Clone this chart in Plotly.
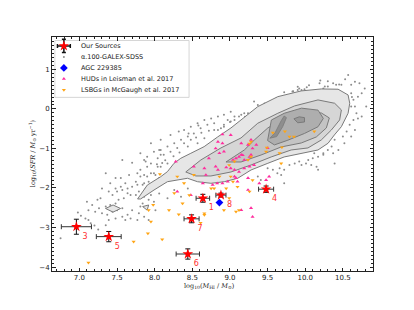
import plotly.graph_objects as go

# ---------------- data ----------------
src_id = ["1", "3", "4", "5", "6", "7", "8"]
src_x = [8.64, 6.96, 9.48, 7.39, 8.44, 8.49, 8.88]
src_y = [-2.26, -2.98, -2.03, -3.23, -3.67, -2.78, -2.18]
src_xerr = [0.09, 0.20, 0.10, 0.165, 0.155, 0.10, 0.067]
src_yerr = [0.10, 0.19, 0.08, 0.13, 0.13, 0.10, 0.05]

agc_x = [8.86]
agc_y = [-2.37]

hud_x = [8.90, 9.01, 8.84, 8.90, 9.15, 9.24, 8.81, 8.92, 8.86, 9.28, 9.30, 9.35,
         9.04, 9.08, 9.12, 9.17, 9.19, 9.26, 8.72, 9.50, 9.28, 9.15, 8.52, 8.66,
         8.81, 8.84, 8.95, 9.01, 9.06, 9.12, 9.19, 9.26, 9.32, 8.28, 8.68, 9.06,
         9.08, 9.24, 8.64, 8.83, 8.90, 8.97, 9.10, 9.39, 9.48, 9.52, 9.24, 9.28,
         9.15, 9.30, 8.30, 8.48, 8.77]
hud_y = [-0.64, -0.66, -0.83, -0.87, -0.87, -0.91, -1.00, -1.08, -1.12, -0.78, -1.00, -0.91,
         -1.29, -1.25, -1.21, -1.17, -1.29, -1.21, -1.25, -0.99, -1.16, -1.16, -1.46, -1.50,
         -1.46, -1.54, -1.48, -1.50, -1.54, -1.59, -1.50, -1.46, -1.42, -1.33, -1.67, -1.71,
         -1.75, -1.75, -1.88, -1.88, -1.88, -1.84, -1.84, -1.88, -1.80, -1.71, -2.05, -2.51,
         -2.56, -2.73, -2.09, -2.18, -1.92]

lsb_x = [7.12, 7.72, 8.10, 7.91, 7.95, 8.19, 8.32, 8.37, 7.98, 8.46, 8.66, 8.61,
         8.92, 9.08, 9.12, 8.26, 8.39, 8.07, 7.92, 8.52, 8.30, 8.79, 8.95, 9.01,
         8.66, 8.99, 8.75, 9.04, 9.30, 8.86, 8.99, 9.24, 9.68, 9.48, 9.66, 9.28,
         9.57, 9.73, 9.79, 9.85, 10.12, 9.49, 9.69, 9.28, 9.26, 9.06, 9.10, 9.26]
lsb_y = [-3.89, -3.36, -3.30, -3.15, -2.85, -2.56, -2.67, -2.39, -2.43, -2.18, -2.64, -2.88,
         -2.56, -2.60, -2.56, -2.13, -1.88, -1.65, -2.56, -1.67, -1.71, -2.01, -2.01, -1.71,
         -2.68, -2.26, -2.01, -1.84, -1.80, -1.71, -1.42, -1.29, -1.38, -1.08, -1.12, -1.21,
         -0.60, -0.57, -0.70, -0.70, -0.57, -0.98, -0.97, -0.83, -0.88, -1.33, -1.97, -2.09]

alfa_x = [8.06, 8.08, 7.57, 7.70, 7.88, 8.10, 8.04, 7.35, 7.48, 7.41, 7.55, 7.66,
          7.77, 7.81, 7.86, 7.95, 8.01, 8.06, 8.10, 7.92, 7.75, 7.61, 7.55, 7.48,
          7.30, 7.28, 7.39, 7.44, 7.50, 7.57, 7.64, 7.70, 7.77, 7.84, 7.88, 7.95,
          7.64, 7.68, 7.59, 7.52, 7.48, 7.41, 7.35, 7.26, 7.21, 7.12, 7.10, 7.17,
          7.30, 7.37, 7.44, 7.50, 7.57, 7.64, 7.70, 7.57, 7.48, 7.39, 7.35, 7.12,
          7.08, 7.15, 7.75, 7.79, 7.86, 7.92, 7.84, 7.79, 7.86, 7.77, 7.68, 7.61,
          7.92, 8.01, 7.24, 6.75, 6.98, 7.02, 7.25, 7.20,
          8.39, 8.48, 8.57, 8.66, 8.75, 8.84, 8.92, 9.01, 8.70, 8.61, 8.52, 8.44,
          8.35, 8.26, 8.17, 8.08, 7.99, 7.90, 7.86, 8.48, 8.39, 8.30, 8.21, 8.12,
          8.04, 7.95, 7.90, 8.08, 8.17, 7.99, 7.90, 7.86, 8.79, 8.88, 8.57, 8.66,
          8.97, 9.06, 9.15, 9.24, 7.81, 7.81, 7.95, 8.08, 8.21, 8.32,
          7.95, 8.06, 8.26, 8.44, 8.35, 8.17, 7.99, 7.81,
          10.57, 10.66, 10.72, 10.37, 10.41, 10.30, 10.24, 10.19, 9.95, 9.90, 9.63, 9.55,
          9.37, 9.32, 9.19, 9.12, 9.06, 9.01, 8.92, 8.84, 8.79, 10.48, 10.62, 10.61,
          10.68, 10.75, 10.64,
          10.61, 10.48, 10.26, 9.99, 9.92, 9.84, 9.72, 9.46, 10.61, 10.70, 10.64, 10.66,
          10.70, 10.59, 10.66, 10.55, 10.50, 10.39, 10.35, 10.30, 10.44, 10.52, 10.61, 10.24,
          10.17, 10.10, 10.79, 10.75, 10.81,
          9.50, 9.57, 9.63, 9.72, 9.79, 9.86, 9.92, 10.01, 10.08, 10.15, 10.17, 10.04,
          9.95, 9.68, 9.72, 10.24, 10.37, 10.39, 10.12, 9.37, 9.41, 9.66,
          8.55, 8.62, 8.72, 8.44, 8.33, 8.25, 8.14, 8.03, 8.45, 8.58, 8.92, 9.00,
          9.20, 9.33, 9.45, 9.90, 10.05, 10.30, 10.45, 10.53, 10.20, 10.02, 9.83, 9.62]
alfa_y = [-1.04, -1.16, -1.29, -1.36, -1.33, -1.37, -1.46, -1.63, -1.75, -1.88, -1.75, -1.67,
          -1.63, -1.71, -1.67, -1.63, -1.67, -1.75, -1.80, -1.84, -1.84, -1.88, -1.97, -2.01,
          -2.01, -2.26, -2.09, -2.18, -2.09, -2.05, -2.01, -1.97, -1.92, -1.92, -2.01, -1.92,
          -2.13, -2.18, -2.26, -2.30, -2.39, -2.43, -2.47, -2.51, -2.60, -2.56, -2.35, -2.43,
          -2.64, -2.68, -2.60, -2.56, -2.51, -2.68, -2.56, -2.73, -2.77, -2.81, -2.94, -2.81,
          -2.77, -2.89, -2.18, -2.09, -2.22, -2.30, -2.39, -2.64, -2.73, -2.81, -2.77, -2.81,
          -2.81, -2.56, -2.30, -3.27, -2.62, -2.70, -3.05, -2.95,
          -0.53, -0.45, -0.36, -0.28, -0.24, -0.19, -0.15, -0.07, -0.40, -0.49, -0.62, -0.70,
          -0.78, -0.87, -0.95, -1.04, -1.08, -1.21, -1.29, -0.78, -0.87, -0.99, -1.08, -1.16,
          -1.25, -1.38, -1.46, -1.46, -1.38, -1.63, -1.71, -1.88, -0.36, -0.49, -0.87, -0.74,
          -0.28, -0.19, -0.15, -0.11, -1.54, -1.12, -0.87, -0.78, -0.66, -0.57,
          -2.18, -2.14, -2.05, -2.01, -2.22, -2.26, -2.35, -2.47,
          0.86, 0.69, 0.65, 0.65, 0.61, 0.57, 0.52, 0.65, 0.48, 0.48, 0.19, 0.14,
          0.10, 0.19, -0.11, -0.19, -0.28, -0.32, -0.45, -0.53, -0.53, 0.23, 0.30, 0.06,
          -0.11, -0.19, -0.28,
          0.61, 0.61, 0.57, 0.50, 0.52, 0.45, 0.42, 0.14, 0.40, 0.31, 0.23, 0.06,
          -0.24, -0.40, -0.53, -0.57, -0.70, -0.78, -0.95, -1.04, -1.04, -0.87, -0.70, -1.12,
          -1.21, -1.25, 0.52, 0.40, 0.06,
          -1.50, -1.54, -1.63, -1.54, -1.42, -1.38, -1.33, -1.38, -1.42, -1.46, -1.54, -1.29,
          -1.42, -1.67, -1.88, -1.16, -1.12, -1.38, -1.12, -1.71, -1.80, -1.50,
          -0.72, -0.60, -0.55, -0.95, -1.10, -1.20, -1.30, -1.40, -0.62, -0.42, -0.40, -0.33,
          -0.20, -0.08, 0.02, 0.56, 0.60, 0.70, 0.62, 0.75, 0.72, 0.55, 0.44, 0.27]

# density contour outlines of the alpha.100 sample (outer -> inner)
c1_x = [7.773, 7.903, 8.08, 8.169, 8.257, 8.347, 8.48, 8.657, 8.836, 9.013, 9.147, 9.369,
        9.636, 9.947, 10.213, 10.436, 10.569, 10.591, 10.569, 10.48, 10.387, 10.303, 10.169,
        9.947, 9.72, 9.503, 9.28, 9.103, 8.924, 8.747, 8.569, 8.436, 8.303, 8.169, 7.991, 7.813]
c1_y = [-2.278, -1.924, -1.714, -1.587, -1.375, -1.248, -1.122, -0.954, -0.709, -0.481, -0.278, 0.058,
        0.311, 0.456, 0.506, 0.499, 0.354, 0.144, -0.109, -0.448, -0.658, -0.868, -1.038,
        -1.122, -1.215, -1.375, -1.544, -1.754, -1.841, -1.881, -1.841, -1.754, -1.797, -1.841, -2.051, -2.278]
c1b_x = [7.347, 7.447, 7.547, 7.447]
c1b_y = [-2.519, -2.43, -2.519, -2.61]
c1c_x = [7.84, 7.92, 7.90]
c1c_y = [-2.47, -2.43, -2.56]
c2_x = [8.413, 8.613, 8.88, 9.147, 9.369, 9.636, 9.857, 10.169, 10.391, 10.48, 10.457, 10.347,
        10.213, 10.036, 9.813, 9.547, 9.28, 9.013, 8.747, 8.547]
c2_y = [-1.595, -1.291, -0.987, -0.734, -0.362, -0.109, 0.076, 0.228, 0.144, -0.025, -0.278, -0.532,
        -0.785, -0.987, -1.038, -1.215, -1.418, -1.595, -1.696, -1.696]
c3_x = [8.947, 9.191, 9.324, 9.503, 9.724, 9.947, 10.213, 10.32, 10.28, 10.147, 9.947, 9.68, 9.413, 9.147]
c3_y = [-1.342, -1.038, -0.785, -0.481, -0.228, -0.101, -0.101, -0.228, -0.481, -0.709, -0.861, -0.962, -1.165, -1.342]
c4_x = [9.50, 9.55, 9.72, 9.95, 10.17, 10.24, 10.17, 9.99, 9.77, 9.59]
c4_y = [-0.80, -0.28, -0.11, 0.02, -0.03, -0.24, -0.45, -0.62, -0.79, -0.91]
c5_x = [9.85, 9.92, 9.99, 9.99, 9.90]
c5_y = [-0.25, -0.20, -0.22, -0.33, -0.35]
c5b_x = [9.53, 9.60, 9.68, 9.72, 9.75, 9.70, 9.62]
c5b_y = [-0.74, -0.60, -0.30, -0.18, -0.22, -0.45, -0.70]

x_ticks = [7.0, 7.5, 8.0, 8.5, 9.0, 9.5, 10.0, 10.5]
y_ticks = [-4, -3, -2, -1, 0, 1]

legend_labels = ["Our Sources", "α.100-GALEX-SDSS", "AGC 229385",
                 "HUDs in Leisman et al. 2017", "LSBGs in McGaugh et al. 2017"]

# ---------------- figure ----------------
GRAY_PT = dict(size=2.0, color="#8c8c8c")
HUD_MK = dict(symbol="triangle-up", size=3.6, color="#ff2d9e", line=dict(width=0))
LSB_MK = dict(symbol="triangle-down", size=3.6, color="#ffa514", line=dict(width=0))
AGC_MK = dict(symbol="diamond", size=6, color="#0000ff")
STAR_MK = dict(symbol="star", size=8, color="#ff0000", line=dict(width=0))

fig = go.Figure()

fig.add_trace(go.Scatter(x=alfa_x, y=alfa_y, mode="markers", marker=GRAY_PT, hoverinfo="skip"))

def poly(xs, ys, fill, lw=1.0, lc="#7a7a7a"):
    fig.add_trace(go.Scatter(x=xs + xs[:1], y=ys + ys[:1], mode="lines", fill="toself",
                             fillcolor=fill, line=dict(color=lc, width=lw), hoverinfo="skip"))

poly(c1_x, c1_y, "#e6e6e6")
poly(c1b_x, c1b_y, "#e6e6e6")
poly(c1c_x, c1c_y, "#e6e6e6")
poly(c2_x, c2_y, "#d6d6d6")
poly(c3_x, c3_y, "#c4c4c4")
poly(c4_x, c4_y, "#aeaeae")
poly(c5_x, c5_y, "#989898")
poly(c5b_x, c5b_y, "#8e8e8e", lw=0.8)

fig.add_trace(go.Scatter(x=hud_x, y=hud_y, mode="markers", marker=HUD_MK, hoverinfo="skip"))
fig.add_trace(go.Scatter(x=lsb_x, y=lsb_y, mode="markers", marker=LSB_MK, hoverinfo="skip"))
fig.add_trace(go.Scatter(x=agc_x, y=agc_y, mode="markers", marker=AGC_MK, hoverinfo="skip"))
fig.add_trace(go.Scatter(
    x=src_x, y=src_y, mode="markers+text", text=src_id, textposition="bottom right",
    textfont=dict(family="DejaVu Sans", size=8, color="#ff3030"),
    marker=STAR_MK,
    error_x=dict(type="data", array=src_xerr, color="#333333", thickness=1, width=2.5),
    error_y=dict(type="data", array=src_yerr, color="#111111", thickness=1, width=2.5),
    hoverinfo="skip"))

# legend glyphs on an overlay axis spanning the plot area
leg_y = [0.962, 0.915, 0.868, 0.821, 0.774]
leg_sym_x = 0.037
fig.add_trace(go.Scatter(x=[leg_sym_x], y=[leg_y[0]], xaxis="x2", yaxis="y2", mode="markers",
                         marker=STAR_MK,
                         error_x=dict(type="data", array=[0.02], color="#111", thickness=1.5, width=2),
                         error_y=dict(type="data", array=[0.028], color="#111", thickness=1.5, width=2),
                         hoverinfo="skip"))
for mk, yy in zip([GRAY_PT, AGC_MK, HUD_MK, LSB_MK], leg_y[1:]):
    fig.add_trace(go.Scatter(x=[leg_sym_x], y=[yy], xaxis="x2", yaxis="y2", mode="markers",
                             marker=mk, hoverinfo="skip"))

annotations = []
for lab, yy in zip(legend_labels, leg_y):
    annotations.append(dict(x=0.084, y=yy, xref="paper", yref="paper", text=lab, showarrow=False,
                            xanchor="left", yanchor="middle",
                            font=dict(family="DejaVu Sans", size=6.5, color="#222222")))
annotations.append(dict(x=0.492, y=-0.066, xref="paper", yref="paper", showarrow=False,
                        text="log<sub>10</sub>(<i>M</i><sub>HI</sub> / <i>M</i><sub>⊙</sub>)",
                        xanchor="center", yanchor="middle",
                        font=dict(family="DejaVu Serif", size=6.5, color="#222222")))
annotations.append(dict(x=-0.062, y=0.504, xref="paper", yref="paper", showarrow=False, textangle=-90,
                        text="log<sub>10</sub>(<i>SFR</i> / <i>M</i><sub>⊙</sub> yr<sup>−1</sup>)",
                        xanchor="center", yanchor="middle",
                        font=dict(family="DejaVu Serif", size=6.5, color="#222222")))

axis_common = dict(showgrid=False, zeroline=False, showline=True, linecolor="#222222", linewidth=1,
                   mirror="ticks", ticks="inside", ticklen=3.5, tickwidth=0.8, tickcolor="#222222",
                   tickfont=dict(family="DejaVu Sans", size=7, color="#222222"))

# page body has an 8px default margin: figure is sized/offset to compensate
fig.update_layout(
    width=406, height=302,
    margin=dict(l=44, r=41, t=29, b=39),
    paper_bgcolor="white", plot_bgcolor="white",
    showlegend=False,
    xaxis=dict(range=[6.636, 10.9], tickvals=x_ticks, ticktext=[f"{v:.1f}" for v in x_ticks],
               minor=dict(dtick=0.1, ticks="inside", ticklen=2, tickwidth=0.6, tickcolor="#222222"),
               **axis_common),
    yaxis=dict(range=[-4.10, 1.82], tickvals=y_ticks, ticktext=[str(v).replace("-", "−") for v in y_ticks],
               minor=dict(dtick=0.1, ticks="inside", ticklen=2, tickwidth=0.6, tickcolor="#222222"),
               **axis_common),
    xaxis2=dict(overlaying="x", range=[0, 1], visible=False, fixedrange=True, anchor="y2"),
    yaxis2=dict(overlaying="y", range=[0, 1], visible=False, fixedrange=True, anchor="x2"),
    shapes=[dict(type="rect", xref="paper", yref="paper", x0=0.009, x1=0.427, y0=0.742, y1=0.985,
                 line=dict(color="#cccccc", width=0.8), fillcolor="rgba(255,255,255,0.85)", layer="below")],
    annotations=annotations,
)

fig.write_html("out.html")
